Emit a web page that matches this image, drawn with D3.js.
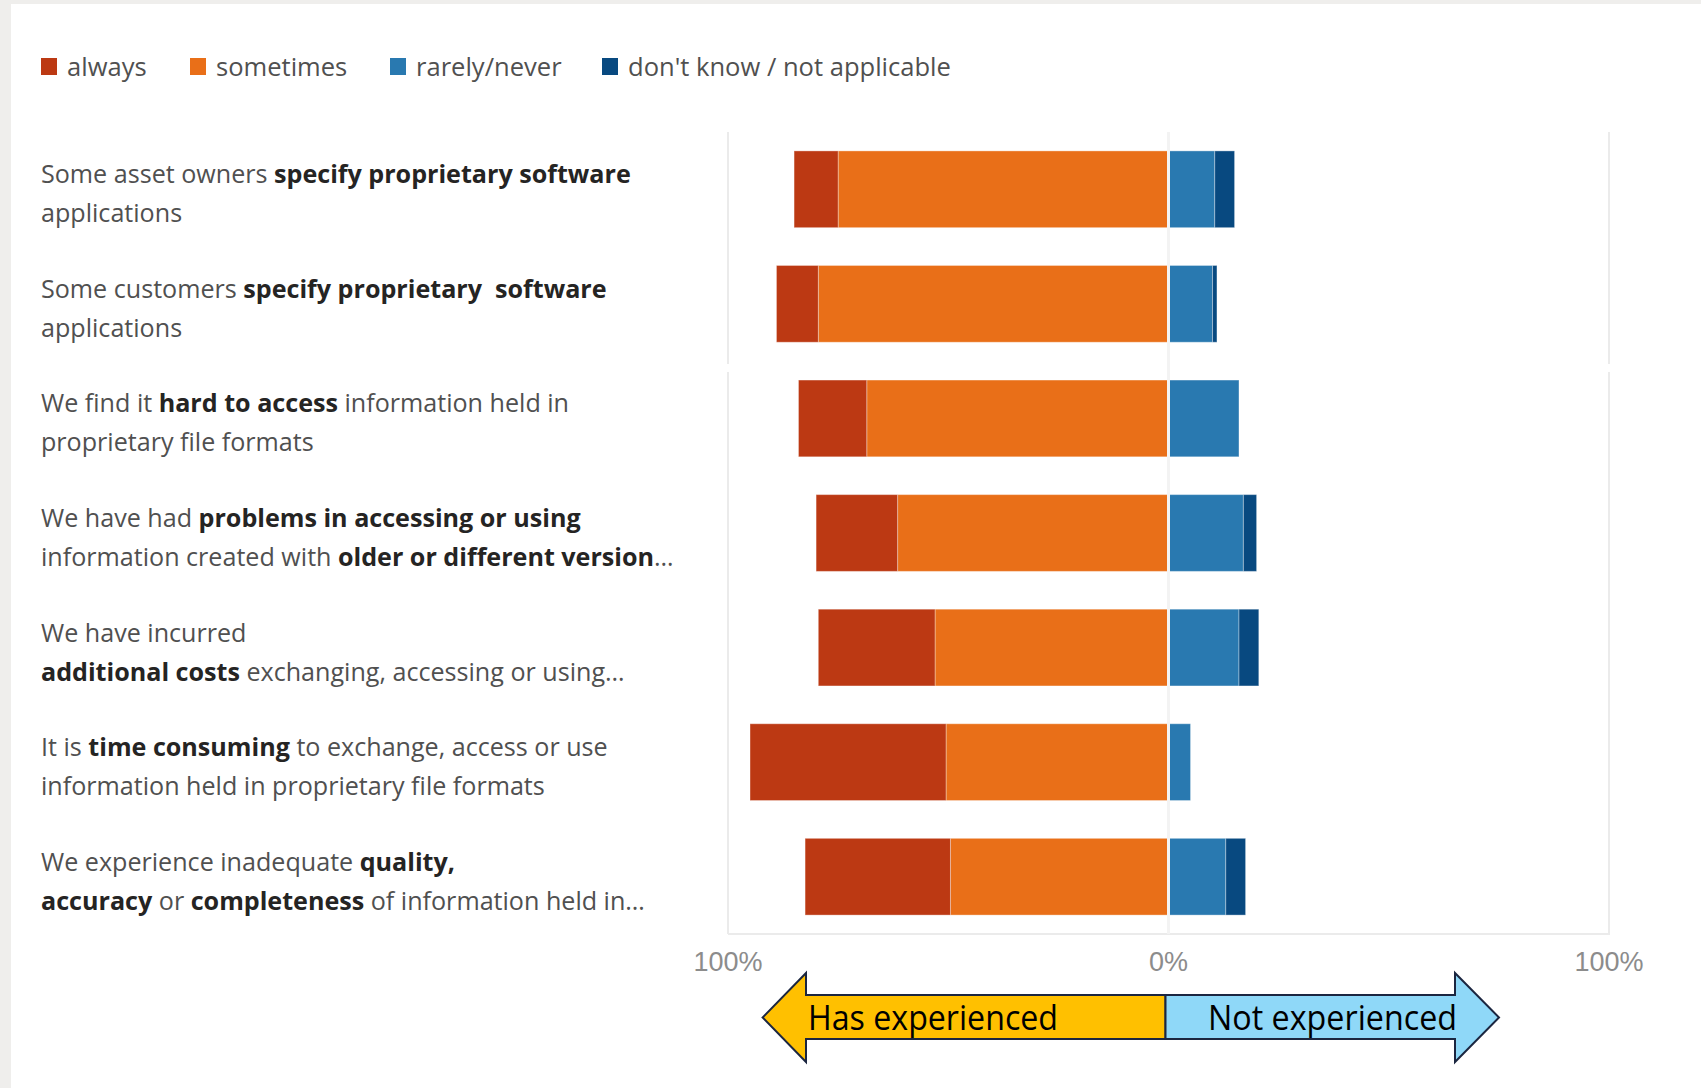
<!DOCTYPE html>
<html>
<head>
<meta charset="utf-8">
<script src="https://cdn.jsdelivr.net/npm/d3@7"></script>
<style>
  body { margin: 0; background: #fff; }
  svg text { white-space: pre; }
</style>
</head>
<body>
<svg class="chart-svg"></svg>
<script>
// questions, "**" marks the bold parts
const labels = [
  ["Some asset owners **specify proprietary software**", "applications"],
  ["Some customers **specify proprietary  software**", "applications"],
  ["We find it **hard to access** information held in", "proprietary file formats"],
  ["We have had **problems in accessing or using**", "information created with **older or different version**…"],
  ["We have incurred", "**additional costs** exchanging, accessing or using…"],
  ["It is **time consuming** to exchange, access or use", "information held in proprietary file formats"],
  ["We experience inadequate **quality,**", "**accuracy** or **completeness** of information held in…"]
];

// percent of answers
const always    = [10, 9.5, 15.5, 18.5, 26.5, 44.5, 33];
const sometimes = [75, 79.5, 68.5, 61.5, 53, 50.5, 49.5];
const rarely    = [10.5, 10, 16, 17, 16, 5, 13];
const dontKnow  = [4.5, 1, 0, 3, 4.5, 0, 4.5];

const legendNames = ["always", "sometimes", "rarely/never", "don't know / not applicable"];
const tickValues = [-100, 0, 100];
const arrowLabels = ["Has experienced", "Not experienced"];

const colors = {
  always: "#bc3913",
  sometimes: "#e96f18",
  rarely: "#2979b0",
  dontKnow: "#084980"
};

const width = 1701, height = 1088;

const svg = d3.select(".chart-svg")
  .attr("width", width)
  .attr("height", height)
  .style("font-family", "'Open Sans', sans-serif");

// grey frame bits of the screenshot
svg.append("rect").attr("width", width).attr("height", height).attr("fill", "#fff");
svg.append("rect").attr("width", width).attr("height", 4).attr("fill", "#efeeec");
svg.append("rect").attr("width", 11).attr("height", height).attr("fill", "#efeeec");

const x = d3.scaleLinear().domain([-100, 100]).range([728, 1609]);
const y = d3.scaleBand()
  .domain(d3.range(labels.length))
  .range([132, 934])
  .paddingInner(0.33)
  .paddingOuter(0.165);

const rows = labels.map((l, i) => ({
  i,
  sometimes: -sometimes[i],
  always: -always[i],
  rarely: rarely[i],
  dontKnow: dontKnow[i]
}));

const keys = ["sometimes", "always", "rarely", "dontKnow"];
const series = d3.stack().keys(keys).offset(d3.stackOffsetDiverging)(rows);

// gridlines (two pieces, the screenshot is stitched)
const grid = svg.append("g").attr("stroke", "#ebebeb").attr("stroke-width", 2);
const gap = [364, 372];
tickValues.forEach(t => {
  grid.append("line").attr("x1", x(t)).attr("x2", x(t)).attr("y1", 132).attr("y2", gap[0]);
  grid.append("line").attr("x1", x(t)).attr("x2", x(t)).attr("y1", gap[1]).attr("y2", 934);
});
grid.append("line").attr("x1", x(-100)).attr("x2", x(100) + 1).attr("y1", 934).attr("y2", 934);

svg.append("g")
  .selectAll("g")
  .data(series)
  .join("g")
    .attr("fill", d => colors[d.key])
  .selectAll("rect")
  .data(d => d)
  .join("rect")
    .attr("x", d => x(d[0]))
    .attr("width", d => Math.max(0, x(d[1]) - x(d[0])))
    .attr("y", d => y(d.data.i))
    .attr("height", y.bandwidth())
    .attr("stroke", "rgba(255,255,255,0.35)")
    .attr("stroke-width", 1);

// zero line over the bars
svg.append("line")
  .attr("x1", x(0)).attr("x2", x(0))
  .attr("y1", 132).attr("y2", 934)
  .attr("stroke", "#f3f3f3").attr("stroke-width", 3);

// tick labels
svg.append("g")
  .selectAll("text")
  .data(tickValues)
  .join("text")
    .attr("x", d => x(d))
    .attr("y", 971)
    .attr("text-anchor", "middle")
    .attr("font-family", "'Liberation Sans', Arial, sans-serif")
    .attr("font-size", 27)
    .attr("fill", "#8c8c8c")
    .text(d => Math.abs(d) + "%");

// category labels
const labelG = svg.append("g").attr("font-size", 26);
labels.forEach((lines, i) => {
  const cy = y(i) + y.bandwidth() / 2;
  lines.forEach((line, j) => {
    const t = labelG.append("text")
      .attr("x", 41)
      .attr("y", cy - 6 + j * 39);
    line.split("**").forEach((part, k) => {
      if (!part) return;
      t.append("tspan")
        .attr("font-weight", k % 2 ? 700 : 400)
        .attr("fill", k % 2 ? "#252423" : "#505050")
        .text(part);
    });
  });
});
// fit the label font to the reference line width
const firstW = labelG.select("text").node().getComputedTextLength();
labelG.attr("font-size", 26 * 590 / firstW);

// legend
const legendX = [41, 190, 390, 602];
const legendKeys = ["always", "sometimes", "rarely", "dontKnow"];
const legend = svg.append("g").attr("font-size", 24).attr("fill", "#505050");
legendNames.forEach((name, i) => {
  legend.append("rect")
    .attr("x", legendX[i]).attr("y", 58)
    .attr("width", 16).attr("height", 17)
    .attr("fill", colors[legendKeys[i]]);
  legend.append("text")
    .attr("x", legendX[i] + 26).attr("y", 76)
    .text(name);
});
const lastW = legend.selectAll("text").nodes()[3].getComputedTextLength();
legend.attr("font-size", 24 * 323 / lastW);

// has / not experienced arrow
const div = x(0) - 3;
const ay = [973, 995, 1017.5, 1039, 1062];
const leftArrow = [[div, ay[1]], [806, ay[1]], [806, ay[0]], [762.6, ay[2]], [806, ay[4]], [806, ay[3]], [div, ay[3]]];
const rightArrow = [[div, ay[1]], [1455, ay[1]], [1455, ay[0]], [1499, ay[2]], [1455, ay[4]], [1455, ay[3]], [div, ay[3]]];
const line = d3.line();
svg.append("path").attr("d", line(leftArrow) + "Z")
  .attr("fill", "#ffc000").attr("stroke", "#1b2640").attr("stroke-width", 2);
svg.append("path").attr("d", line(rightArrow) + "Z")
  .attr("fill", "#8fd8f8").attr("stroke", "#1b2640").attr("stroke-width", 2);

svg.append("text")
  .attr("x", 808).attr("y", 1030)
  .attr("font-size", 35)
  .attr("textLength", 250).attr("lengthAdjust", "spacingAndGlyphs")
  .attr("fill", "#000")
  .text(arrowLabels[0]);
svg.append("text")
  .attr("x", 1208).attr("y", 1030)
  .attr("font-size", 35)
  .attr("textLength", 249).attr("lengthAdjust", "spacingAndGlyphs")
  .attr("fill", "#000")
  .text(arrowLabels[1]);
</script>
</body>
</html>
